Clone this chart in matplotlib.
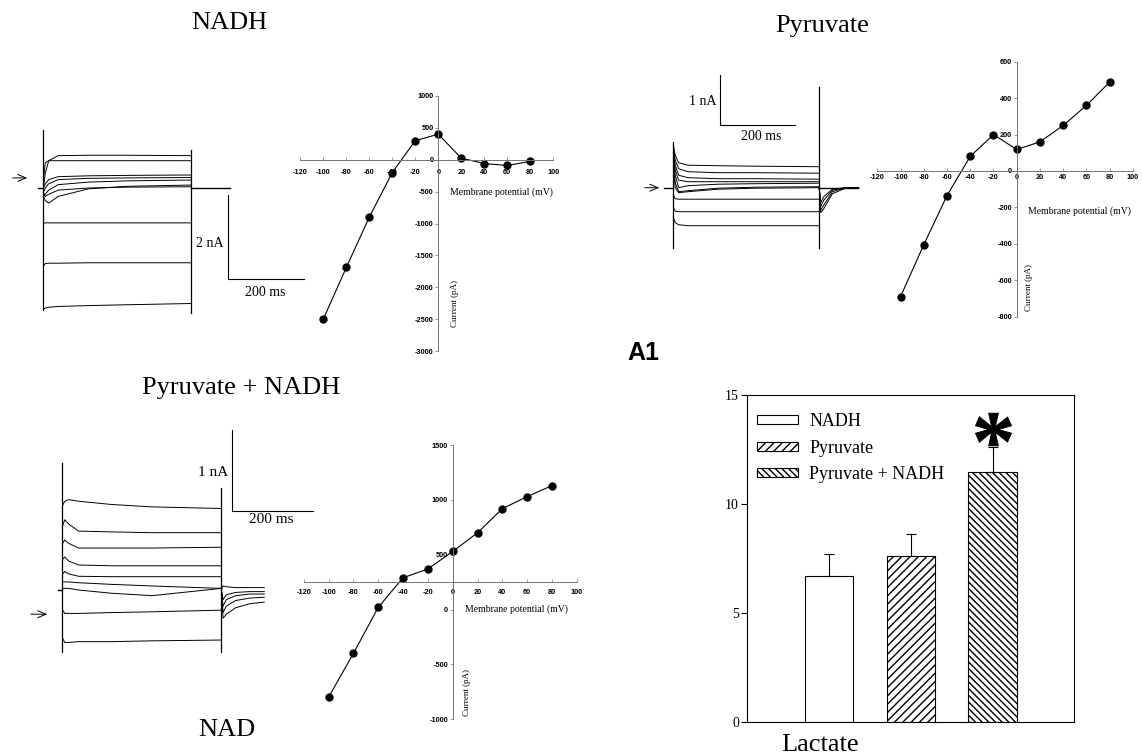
import numpy as np
import matplotlib.pyplot as plt
from matplotlib.textpath import TextPath
from matplotlib.font_manager import FontProperties
from matplotlib.path import Path

plt.rcParams['font.family'] = ['Liberation Serif', 'DejaVu Sans']
plt.rcParams['axes.unicode_minus'] = False

W, H = 1142, 756

# I-V relations: step potential (mV) vs current (pA)
voltages = [-100, -80, -60, -40, -20, 0, 20, 40, 60, 80]
iv_nadh = [-2500, -1690, -900, -200, 300, 400, 25, -60, -90, -25]
iv_pyruvate = [-690, -405, -135, 80, 200, 118, 160, 250, 360, 488]
iv_pyr_nadh = [-800, -400, 20, 290, 370, 530, 700, 920, 1030, 1130]

# current traces (nA), sampled at trace_t (ms after the step onset)
trace_t = [1, 6, 15, 40, 120, 220, 390]
traces_nadh = [
    [0.0, 0.35, 0.65, 0.77, 0.78, 0.78, 0.77],
    [0.2, 0.6, 0.65, 0.65, 0.65, 0.65, 0.65],
    [0.0, 0.1, 0.2, 0.27, 0.29, 0.3, 0.31],
    [-0.1, 0.0, 0.1, 0.2, 0.23, 0.24, 0.25],
    [-0.2, -0.15, -0.05, 0.08, 0.14, 0.17, 0.19],
    [-0.2, -0.3, -0.36, -0.2, -0.02, 0.04, 0.07],
    [-0.1, -0.2, -0.15, -0.05, 0.0, 0.02, 0.03],
    [-0.85, -0.83, -0.83, -0.83, -0.83, -0.83, -0.83],
    [-1.85, -1.8, -1.79, -1.79, -1.78, -1.78, -1.78],
    [-2.88, -2.86, -2.84, -2.82, -2.8, -2.78, -2.75],
]
traces_pyruvate = [
    [0.85, 0.65, 0.5, 0.45, 0.44, 0.43, 0.42],
    [0.8, 0.55, 0.38, 0.32, 0.3, 0.3, 0.29],
    [0.75, 0.45, 0.25, 0.2, 0.18, 0.18, 0.17],
    [0.7, 0.35, 0.15, 0.12, 0.12, 0.12, 0.12],
    [0.6, 0.25, 0.0, 0.04, 0.07, 0.08, 0.09],
    [0.5, 0.1, -0.08, -0.06, -0.01, 0.01, 0.02],
    [0.4, 0.0, -0.1, -0.08, -0.03, -0.01, 0.0],
    [-0.15, -0.22, -0.23, -0.23, -0.23, -0.23, -0.23],
    [-0.4, -0.47, -0.48, -0.48, -0.48, -0.48, -0.48],
    [-0.6, -0.7, -0.74, -0.76, -0.76, -0.76, -0.76],
]
traces_pyr_nadh = [
    [1.05, 1.1, 1.12, 1.1, 1.06, 1.03, 1.01],
    [0.8, 0.87, 0.82, 0.73, 0.72, 0.71, 0.71],
    [0.58, 0.62, 0.58, 0.52, 0.52, 0.52, 0.53],
    [0.38, 0.41, 0.36, 0.31, 0.3, 0.3, 0.3],
    [0.2, 0.23, 0.2, 0.17, 0.165, 0.165, 0.165],
    [0.1, 0.1, 0.1, 0.09, 0.07, 0.05, 0.02],
    [0.02, 0.02, 0.02, 0.0, -0.04, -0.07, 0.02],
    [-0.25, -0.29, -0.29, -0.29, -0.28, -0.27, -0.25],
    [-0.6, -0.65, -0.65, -0.64, -0.64, -0.63, -0.62],
]

# tail currents after the step (nA)
tail_t = [390, 394, 402, 425, 460, 495]
tails_pyruvate = [
    [0, -0.45, -0.35, -0.08, 0, 0],
    [0, -0.5, -0.42, -0.12, -0.01, 0],
    [0, -0.38, -0.25, -0.05, 0, 0],
    [0, -0.3, -0.18, -0.03, 0, 0],
]
tails_pyr_nadh = [
    [0, -0.35, -0.3, -0.22, -0.17, -0.15],
    [0, -0.28, -0.2, -0.13, -0.1, -0.09],
    [0, -0.2, -0.12, -0.07, -0.05, -0.05],
    [0, -0.12, -0.06, -0.03, -0.02, -0.02],
    [0, 0.05, 0.04, 0.03, 0.03, 0.03],
]

# Lactate bar chart
bar_labels = ['NADH', 'Pyruvate', 'Pyruvate + NADH']
bar_values = [6.7, 7.6, 11.45]
bar_errors = [1.0, 1.0, 1.15]
bar_hatches = ['', '////', '\\\\\\\\\\']

fig = plt.figure(figsize=(W / 100, H / 100), dpi=100)


def px_axes(x0, y0, x1, y1):
    return fig.add_axes([x0 / W, 1 - y1 / H, (x1 - x0) / W, (y1 - y0) / H])


def fig_text(x, y, s, **kw):
    fig.text(x / W, 1 - y / H, s, ha='center', va='center', **kw)


def trace_axes(box, t0_px, px_ms, base_px, px_na):
    x0, y0, x1, y1 = box
    ax = px_axes(x0, y0, x1, y1)
    ax.set_xlim((x0 - t0_px) / px_ms, (x1 - t0_px) / px_ms)
    ax.set_ylim((base_px - y1) / px_na, (base_px - y0) / px_na)
    ax.axis('off')
    return ax


def draw_traces(ax, traces, tails, on_span, off_span, base_spans):
    for tr in traces:
        ax.plot(trace_t, tr, color='black', lw=0.7)
    for tl in tails:
        ax.plot(tail_t, tl, color='black', lw=0.7)
    ax.plot([0, 0], on_span, color='black', lw=0.9)
    ax.plot([390, 390], off_span, color='black', lw=0.9)
    for a, b in base_spans:
        ax.plot([a, b], [0, 0], color='black', lw=1.0)


def scale_bar(ax, t, top, na, na_label, na_xy, ms_xy, fs):
    ax.plot([t, t, t + 200], [top, top - na, top - na], color='black', lw=0.8)
    ax.text(na_xy[0], na_xy[1], na_label, fontsize=fs, ha='center', va='center')
    ax.text(ms_xy[0], ms_xy[1], '200 ms', fontsize=fs, ha='center', va='center')


def arrow(ax, t0, t1, y):
    ax.annotate('', xy=(t1, y), xytext=(t0, y),
                arrowprops=dict(arrowstyle='->,head_length=0.6,head_width=0.25', lw=0.7, color='black'))


def iv_panel(box, ylim, yticks, values, xpad, mlab_y, clab_x, clab_y, xaxis_at=0):
    ax = px_axes(*box)
    ax.plot(voltages, values, 'o-', color='black', lw=0.8, ms=5, clip_on=False)
    ax.set_xlim(-120, 100)
    ax.set_ylim(*ylim)
    ax.patch.set_visible(False)
    ax.spines['left'].set_position(('data', 0))
    ax.spines['bottom'].set_position(('data', xaxis_at))
    ax.spines['top'].set_visible(False)
    ax.spines['right'].set_visible(False)
    for s in ['left', 'bottom']:
        ax.spines[s].set_color('0.45')
        ax.spines[s].set_linewidth(0.7)
    ax.set_xticks(range(-120, 101, 20))
    ax.set_yticks(yticks)
    ax.tick_params(axis='x', direction='in', length=2, width=0.5, color='0.45', pad=xpad)
    ax.tick_params(axis='y', direction='out', length=2, width=0.5, color='0.45', pad=1.5)
    for lab in ax.get_xticklabels() + ax.get_yticklabels():
        lab.set_fontfamily('Liberation Sans')
        lab.set_fontweight('bold')
        lab.set_fontsize(5.3)
    ax.text(10, mlab_y, 'Membrane potential (mV)', fontsize=7, ha='left', va='center')
    ax.text(clab_x, clab_y, 'Current (pA)', fontsize=6.5, rotation=90, ha='left', va='center')
    return ax


# ---- NADH
ax = trace_axes((0, 120, 310, 320), 43, 0.38, 188, 42)
draw_traces(ax, traces_nadh, [], [1.38, -2.9], [0.9, -2.98], [(-13, 0), (390, 492)])
scale_bar(ax, 487, -0.17, 2, '2 nA', (440, -1.31), (584, -2.5), 10)
arrow(ax, -87, -34, 0.24)
iv_panel((300.3, 96, 553.3, 351), (-3000, 1000), range(-3000, 1001, 500), iv_nadh,
         7, -513, 11, -2254)
fig_text(229, 23, 'NADH', fontsize=19)

# ---- Pyruvate
ax = trace_axes((630, 60, 870, 260), 673, 0.375, 187.7, 50)
draw_traces(ax, traces_pyruvate, tails_pyruvate, [0.92, -1.2], [2.02, -1.2], [(-24, 0), (390, 493)])
scale_bar(ax, 125, 2.25, 1, '1 nA', (80, 1.72), (235, 1.03), 10)
arrow(ax, -83, -29, 0)
iv_panel((877.3, 61.7, 1132.9, 316.7), (-800, 600), range(-800, 601, 200), iv_pyruvate,
         2.2, -220, 7, -637)
fig_text(822, 26, 'Pyruvate', fontsize=19)

# ---- Pyruvate + NADH
ax = trace_axes((0, 420, 330, 670), 62.3, 0.408, 590, 80.7)
draw_traces(ax, traces_pyr_nadh, tails_pyr_nadh, [1.57, -0.77], [1.26, -0.77], [(-10, 0)])
scale_bar(ax, 415, 1.98, 1, '1 nA', (369, 1.45), (513, 0.87), 11)
arrow(ax, -84, -30, -0.3)
iv_panel((303.7, 445, 576.9, 719.3), (-1000, 1500), range(-1000, 1501, 500), iv_pyr_nadh,
         5, 0, 8, -760, xaxis_at=250)
fig_text(241, 388, 'Pyruvate + NADH', fontsize=19)
fig_text(227, 730, 'NAD', fontsize=19)

fig_text(643, 353, 'A1', fontsize=18, fontweight='bold', family='Liberation Sans')

# ---- Lactate bars
axb = px_axes(747.3, 395, 1074.3, 721.7)
xpos = [1, 2, 3]
handles = []
for i in range(3):
    b = axb.bar(xpos[i], bar_values[i], width=0.59, color='white', edgecolor='black',
                linewidth=0.8, hatch=bar_hatches[i], label=bar_labels[i])
    handles.append(b)
axb.errorbar(xpos, bar_values, yerr=[[0, 0, 0], bar_errors], fmt='none', ecolor='black',
             elinewidth=0.8, capsize=3.5, capthick=0.8)

# significance asterisk as a centred glyph outline
star = TextPath((0, 0), '*', size=1, prop=FontProperties(family='Liberation Serif', weight='bold'))
ext = star.get_extents()
sv = star.vertices - [(ext.x0 + ext.x1) / 2, (ext.y0 + ext.y1) / 2]
sv[star.codes == Path.CLOSEPOLY] = 0
star = Path(sv, star.codes)
axb.plot([3], [13.45], marker=star, ms=26, color='black', mew=0.6)

axb.set_xlim(0, 4)
axb.set_ylim(0, 15)
axb.set_xticks([])
axb.set_yticks([0, 5, 10, 15])
axb.tick_params(axis='y', direction='out', length=4, width=0.8, labelsize=10, pad=2)
for s in axb.spines.values():
    s.set_linewidth(0.8)
axb.legend(handles=handles, loc='upper left', bbox_to_anchor=(0.03, 0.945), frameon=False,
           fontsize=13, handlelength=2.27, handleheight=0.39, handletextpad=0.63,
           labelspacing=0.53, borderpad=0, borderaxespad=0)
fig_text(820, 745, 'Lactate', fontsize=19)

fig.savefig('out.png', dpi=100)
